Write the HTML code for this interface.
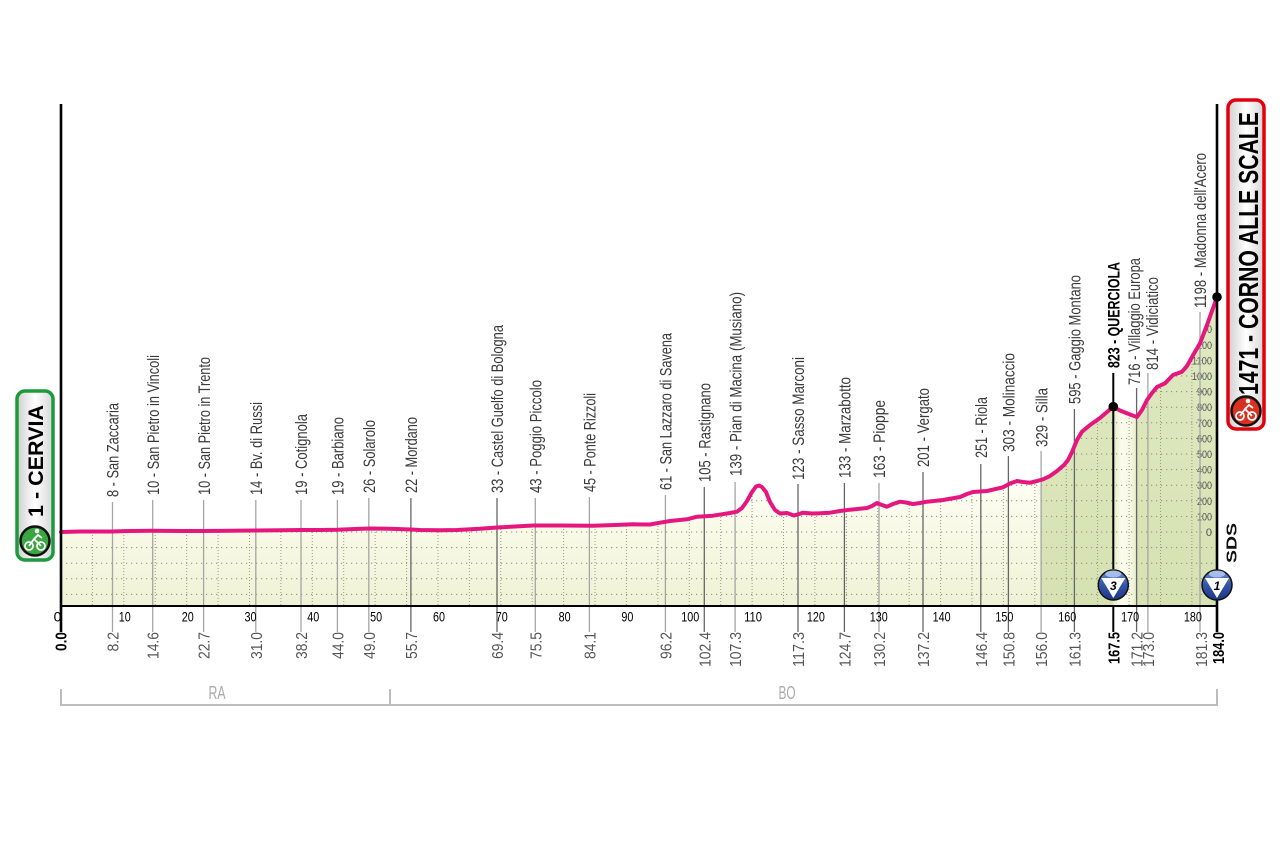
<!DOCTYPE html>
<html><head><meta charset="utf-8"><style>
html,body{margin:0;padding:0;background:#fff;}
svg{display:block;}
text{font-family:"Liberation Sans",sans-serif;}
</style></head><body>
<svg width="1280" height="852" viewBox="0 0 1280 852" xmlns="http://www.w3.org/2000/svg">
<defs>
<clipPath id="fc"><polygon points="61,606 61,532 80,531.5 112,531.5 130,531 152,530.8 180,531 203,531 230,530.8 256,530.5 280,530.3 301,530 320,530 337,529.8 355,529 369,528.5 390,528.8 411,529.5 420,530 440,530.3 457,530 480,528.8 497,527.5 515,526.5 533,525.5 560,525.5 593,525.7 615,525 633,524.3 650,524.5 660,522.7 670,521 687,519.3 697,516.7 713,515.7 730,513 737,511.7 742,508 747,501 752,492 756,486.5 759,485.5 762,487 766,492 770,502 775,510 780,513.5 787,513 794,515.5 799,514 803,512.7 812,513.5 820,513.3 830,512.7 840,511 850,509.7 867,508 872,506 877,503 882,505 887,506.7 893,504 900,501.7 906,502.5 913,504 920,503 927,501.7 943,500 960,497 967,494 973,492 987,491 1003,487.3 1010,483.5 1017,481 1023,482 1030,482.7 1037,481 1043,479.3 1050,476 1057,471 1064,465 1068,460 1072,452 1077,440 1082,431.7 1090,425 1100,418 1107,412 1113,406.7 1120,410.5 1130,414.5 1137,417 1142,410 1147,400 1152,393 1157,387 1165,383.3 1173,375 1182,371.7 1187,366 1192,357 1200,343.3 1207,325 1217,297 1217,606"/></clipPath>
<linearGradient id="cream" x1="0" y1="480" x2="0" y2="606" gradientUnits="userSpaceOnUse"><stop offset="0" stop-color="#fefef3"/><stop offset="1" stop-color="#eff2d5"/></linearGradient>
<linearGradient id="green" x1="0" y1="300" x2="0" y2="606" gradientUnits="userSpaceOnUse"><stop offset="0" stop-color="#e0e9c2"/><stop offset="1" stop-color="#d6e2b2"/></linearGradient>
<linearGradient id="strip" x1="1113" y1="0" x2="1138" y2="0" gradientUnits="userSpaceOnUse"><stop offset="0" stop-color="#e4ebc8"/><stop offset="0.35" stop-color="#fcfcee"/><stop offset="0.75" stop-color="#f4f6e0"/><stop offset="1" stop-color="#dde7bd"/></linearGradient>
<linearGradient id="badge" x1="0" y1="0" x2="1" y2="0"><stop offset="0" stop-color="#cfcfcf"/><stop offset="0.5" stop-color="#ffffff"/><stop offset="1" stop-color="#d6d6d6"/></linearGradient>
<linearGradient id="blue" x1="0" y1="0" x2="0" y2="1"><stop offset="0" stop-color="#6a8fd8"/><stop offset="0.5" stop-color="#3556a8"/><stop offset="1" stop-color="#1c3484"/></linearGradient>
</defs>

<rect width="1280" height="852" fill="#fff"/>

<!-- fill -->
<g clip-path="url(#fc)">
<rect x="61" y="280" width="1156" height="326" fill="url(#cream)"/>
<rect x="1041" y="280" width="72" height="326" fill="url(#green)"/>
<rect x="1113" y="280" width="25" height="326" fill="url(#strip)"/>
<rect x="1137" y="280" width="80" height="326" fill="url(#green)"/>
<path d="M92.4 280V606M123.8 280V606M155.2 280V606M186.7 280V606M218.1 280V606M249.5 280V606M280.9 280V606M312.3 280V606M343.7 280V606M375.1 280V606M406.6 280V606M438 280V606M469.4 280V606M500.8 280V606M532.2 280V606M563.6 280V606M595 280V606M626.4 280V606M657.9 280V606M689.3 280V606M720.7 280V606M752.1 280V606M783.5 280V606M814.9 280V606M846.3 280V606M877.7 280V606M909.2 280V606M940.6 280V606M972 280V606M1003.4 280V606M1034.8 280V606M1066.2 280V606M1097.6 280V606M1129.1 280V606M1160.5 280V606M1191.9 280V606" stroke="#9a9a8a" stroke-width="1" stroke-dasharray="1,2" fill="none"/>
<path d="M61 594.4H1217M61 578.8H1217M61 563.2H1217M61 547.6H1217M61 532H1217M61 516.4H1217M61 500.8H1217M61 485.2H1217M61 469.6H1217M61 454H1217M61 438.4H1217M61 422.8H1217M61 407.2H1217M61 391.6H1217M61 376H1217M61 360.4H1217M61 344.8H1217M61 329.2H1217M61 313.6H1217M61 298H1217" stroke="#8a8a7a" stroke-width="1" stroke-dasharray="1.2,3.8" fill="none"/>
<g font-size="11" fill="#555" text-anchor="end">
<text x="1212" y="536">0</text>
<text x="1212" y="520.4" textLength="15" lengthAdjust="spacingAndGlyphs">100</text>
<text x="1212" y="504.8" textLength="15" lengthAdjust="spacingAndGlyphs">200</text>
<text x="1212" y="489.2" textLength="15" lengthAdjust="spacingAndGlyphs">300</text>
<text x="1212" y="473.6" textLength="15" lengthAdjust="spacingAndGlyphs">400</text>
<text x="1212" y="458" textLength="15" lengthAdjust="spacingAndGlyphs">500</text>
<text x="1212" y="442.4" textLength="15" lengthAdjust="spacingAndGlyphs">600</text>
<text x="1212" y="426.8" textLength="15" lengthAdjust="spacingAndGlyphs">700</text>
<text x="1212" y="411.2" textLength="15" lengthAdjust="spacingAndGlyphs">800</text>
<text x="1212" y="395.6" textLength="15" lengthAdjust="spacingAndGlyphs">900</text>
<text x="1212" y="380" textLength="20" lengthAdjust="spacingAndGlyphs">1000</text>
<text x="1212" y="364.4" textLength="20" lengthAdjust="spacingAndGlyphs">1100</text>
<text x="1212" y="348.8" textLength="20" lengthAdjust="spacingAndGlyphs">1200</text>
<text x="1212" y="333.2" textLength="20" lengthAdjust="spacingAndGlyphs">1300</text>
<text x="1212" y="317.6" textLength="20" lengthAdjust="spacingAndGlyphs">1400</text>
</g>
</g>

<!-- town lines -->
<g stroke="#a5a5a5" stroke-width="1.3" fill="none">
<path d="M112.5 502V632M152.7 500V632M203.6 500V632M255.8 500V632M301 500V632M337.4 500V632M368.8 498V632M535.3 498V632M589.4 497V632M665.4 495V632M735.1 482V632M879 483V632M1041.1 451V632M1147.9 373V632M1200 312V632"/>
</g>
<g stroke="#666" stroke-width="1.3" fill="none">
<path d="M410.9 498V632M497 498V632M704.3 487V632M798 484V632M844.4 483V632M923 472V632M980.8 464V632M1008.4 456V632M1074.4 409V632M1136.6 388V632"/>
</g>
<path d="M1113.3 373V569M1113.3 606V632" stroke="#000" stroke-width="2" fill="none"/>

<!-- profile -->
<polyline fill="none" stroke="#e5177e" stroke-width="4" stroke-linejoin="round" stroke-linecap="round" points="61,532 80,531.5 112,531.5 130,531 152,530.8 180,531 203,531 230,530.8 256,530.5 280,530.3 301,530 320,530 337,529.8 355,529 369,528.5 390,528.8 411,529.5 420,530 440,530.3 457,530 480,528.8 497,527.5 515,526.5 533,525.5 560,525.5 593,525.7 615,525 633,524.3 650,524.5 660,522.7 670,521 687,519.3 697,516.7 713,515.7 730,513 737,511.7 742,508 747,501 752,492 756,486.5 759,485.5 762,487 766,492 770,502 775,510 780,513.5 787,513 794,515.5 799,514 803,512.7 812,513.5 820,513.3 830,512.7 840,511 850,509.7 867,508 872,506 877,503 882,505 887,506.7 893,504 900,501.7 906,502.5 913,504 920,503 927,501.7 943,500 960,497 967,494 973,492 987,491 1003,487.3 1010,483.5 1017,481 1023,482 1030,482.7 1037,481 1043,479.3 1050,476 1057,471 1064,465 1068,460 1072,452 1077,440 1082,431.7 1090,425 1100,418 1107,412 1113,406.7 1120,410.5 1130,414.5 1137,417 1142,410 1147,400 1152,393 1157,387 1165,383.3 1173,375 1182,371.7 1187,366 1192,357 1200,343.3 1207,325 1217,297"/>

<!-- axes -->
<path d="M61 104V632M1217 104V632" stroke="#000" stroke-width="2.6" fill="none"/>
<path d="M60 606H1218" stroke="#000" stroke-width="2" fill="none"/>

<!-- dots -->
<circle cx="1113.3" cy="406.7" r="4.8" fill="#000"/>
<circle cx="1217" cy="297" r="4.8" fill="#000"/>

<!-- climb markers -->
<g>
<circle cx="1113.3" cy="585" r="15" fill="url(#blue)" stroke="#111" stroke-width="1.5"/>
<ellipse cx="1113.3" cy="574" rx="8" ry="3.5" fill="#b9cdf2" opacity="0.8"/>
<polygon points="1101.3,578 1125.3,578 1113.3,598" fill="#fff"/>
<text x="1113.3" y="590" font-size="12" font-weight="bold" font-style="italic" text-anchor="middle" fill="#000">3</text>
<circle cx="1217" cy="585" r="15" fill="url(#blue)" stroke="#111" stroke-width="1.5"/>
<ellipse cx="1217" cy="574" rx="8" ry="3.5" fill="#b9cdf2" opacity="0.8"/>
<polygon points="1205,578 1229,578 1217,598" fill="#fff"/>
<text x="1217" y="590" font-size="12" font-weight="bold" font-style="italic" text-anchor="middle" fill="#000">1</text>
</g>

<!-- SDS -->
<text x="1236.5" y="563" transform="rotate(-90 1236.5 563)" font-size="15" font-weight="bold" fill="#111" textLength="40" lengthAdjust="spacingAndGlyphs">SDS</text>

<!-- km axis numbers -->
<g font-size="14" fill="#000" text-anchor="middle">
<text x="57.5" y="621.5">0</text>
<text x="124.8" y="621.5" textLength="12" lengthAdjust="spacingAndGlyphs">10</text>
<text x="187.7" y="621.5" textLength="12" lengthAdjust="spacingAndGlyphs">20</text>
<text x="250.5" y="621.5" textLength="12" lengthAdjust="spacingAndGlyphs">30</text>
<text x="313.3" y="621.5" textLength="12" lengthAdjust="spacingAndGlyphs">40</text>
<text x="376.1" y="621.5" textLength="12" lengthAdjust="spacingAndGlyphs">50</text>
<text x="439" y="621.5" textLength="12" lengthAdjust="spacingAndGlyphs">60</text>
<text x="501.8" y="621.5" textLength="12" lengthAdjust="spacingAndGlyphs">70</text>
<text x="564.6" y="621.5" textLength="12" lengthAdjust="spacingAndGlyphs">80</text>
<text x="627.4" y="621.5" textLength="12" lengthAdjust="spacingAndGlyphs">90</text>
<text x="690.3" y="621.5" textLength="18" lengthAdjust="spacingAndGlyphs">100</text>
<text x="753.1" y="621.5" textLength="18" lengthAdjust="spacingAndGlyphs">110</text>
<text x="815.9" y="621.5" textLength="18" lengthAdjust="spacingAndGlyphs">120</text>
<text x="878.7" y="621.5" textLength="18" lengthAdjust="spacingAndGlyphs">130</text>
<text x="941.6" y="621.5" textLength="18" lengthAdjust="spacingAndGlyphs">140</text>
<text x="1004.4" y="621.5" textLength="18" lengthAdjust="spacingAndGlyphs">150</text>
<text x="1067.2" y="621.5" textLength="18" lengthAdjust="spacingAndGlyphs">160</text>
<text x="1130.1" y="621.5" textLength="18" lengthAdjust="spacingAndGlyphs">170</text>
<text x="1192.9" y="621.5" textLength="18" lengthAdjust="spacingAndGlyphs">180</text>
</g>

<!-- distance labels -->
<g font-size="16" fill="#555" text-anchor="end">
<text x="118.5" y="632" transform="rotate(-90 118.5 632)" textLength="19.5" lengthAdjust="spacingAndGlyphs">8.2</text>
<text x="158.7" y="632" transform="rotate(-90 158.7 632)" textLength="27" lengthAdjust="spacingAndGlyphs">14.6</text>
<text x="209.6" y="632" transform="rotate(-90 209.6 632)" textLength="27" lengthAdjust="spacingAndGlyphs">22.7</text>
<text x="261.8" y="632" transform="rotate(-90 261.8 632)" textLength="27" lengthAdjust="spacingAndGlyphs">31.0</text>
<text x="307" y="632" transform="rotate(-90 307 632)" textLength="27" lengthAdjust="spacingAndGlyphs">38.2</text>
<text x="343.4" y="632" transform="rotate(-90 343.4 632)" textLength="27" lengthAdjust="spacingAndGlyphs">44.0</text>
<text x="374.8" y="632" transform="rotate(-90 374.8 632)" textLength="27" lengthAdjust="spacingAndGlyphs">49.0</text>
<text x="416.9" y="632" transform="rotate(-90 416.9 632)" textLength="27" lengthAdjust="spacingAndGlyphs">55.7</text>
<text x="503" y="632" transform="rotate(-90 503 632)" textLength="27" lengthAdjust="spacingAndGlyphs">69.4</text>
<text x="541.3" y="632" transform="rotate(-90 541.3 632)" textLength="27" lengthAdjust="spacingAndGlyphs">75.5</text>
<text x="595.4" y="632" transform="rotate(-90 595.4 632)" textLength="27" lengthAdjust="spacingAndGlyphs">84.1</text>
<text x="671.4" y="632" transform="rotate(-90 671.4 632)" textLength="27" lengthAdjust="spacingAndGlyphs">96.2</text>
<text x="710.3" y="632" transform="rotate(-90 710.3 632)" textLength="35" lengthAdjust="spacingAndGlyphs">102.4</text>
<text x="741.1" y="632" transform="rotate(-90 741.1 632)" textLength="35" lengthAdjust="spacingAndGlyphs">107.3</text>
<text x="804" y="632" transform="rotate(-90 804 632)" textLength="35" lengthAdjust="spacingAndGlyphs">117.3</text>
<text x="850.4" y="632" transform="rotate(-90 850.4 632)" textLength="35" lengthAdjust="spacingAndGlyphs">124.7</text>
<text x="885" y="632" transform="rotate(-90 885 632)" textLength="35" lengthAdjust="spacingAndGlyphs">130.2</text>
<text x="929" y="632" transform="rotate(-90 929 632)" textLength="35" lengthAdjust="spacingAndGlyphs">137.2</text>
<text x="986.8" y="632" transform="rotate(-90 986.8 632)" textLength="35" lengthAdjust="spacingAndGlyphs">146.4</text>
<text x="1014.4" y="632" transform="rotate(-90 1014.4 632)" textLength="35" lengthAdjust="spacingAndGlyphs">150.8</text>
<text x="1047.1" y="632" transform="rotate(-90 1047.1 632)" textLength="35" lengthAdjust="spacingAndGlyphs">156.0</text>
<text x="1080.4" y="632" transform="rotate(-90 1080.4 632)" textLength="35" lengthAdjust="spacingAndGlyphs">161.3</text>
<text x="1142.6" y="632" transform="rotate(-90 1142.6 632)" textLength="35" lengthAdjust="spacingAndGlyphs">171.2</text>
<text x="1153.9" y="632" transform="rotate(-90 1153.9 632)" textLength="35" lengthAdjust="spacingAndGlyphs">173.0</text>
<text x="1207" y="632" transform="rotate(-90 1207 632)" textLength="35" lengthAdjust="spacingAndGlyphs">181.3</text>
</g>
<g font-size="16" fill="#000" font-weight="bold" text-anchor="end">
<text x="66.5" y="632" transform="rotate(-90 66.5 632)" textLength="19" lengthAdjust="spacingAndGlyphs">0.0</text>
<text x="1119.3" y="632" transform="rotate(-90 1119.3 632)" textLength="32" lengthAdjust="spacingAndGlyphs">167.5</text>
<text x="1224" y="632" transform="rotate(-90 1224 632)" textLength="32" lengthAdjust="spacingAndGlyphs">184.0</text>
</g>

<!-- town labels -->
<g font-size="17" fill="#3a3a3a">
<text x="118.7" y="497" transform="rotate(-90 118.7 497)" textLength="94" lengthAdjust="spacingAndGlyphs">8 - San Zaccaria</text>
<text x="158.9" y="495" transform="rotate(-90 158.9 495)" textLength="140" lengthAdjust="spacingAndGlyphs">10 - San Pietro in Vincoli</text>
<text x="209.8" y="495" transform="rotate(-90 209.8 495)" textLength="138" lengthAdjust="spacingAndGlyphs">10 - San Pietro in Trento</text>
<text x="262" y="495" transform="rotate(-90 262 495)" textLength="93" lengthAdjust="spacingAndGlyphs">14 - Bv. di Russi</text>
<text x="307.2" y="495" transform="rotate(-90 307.2 495)" textLength="81" lengthAdjust="spacingAndGlyphs">19 - Cotignola</text>
<text x="343.6" y="495" transform="rotate(-90 343.6 495)" textLength="78" lengthAdjust="spacingAndGlyphs">19 - Barbiano</text>
<text x="375" y="493" transform="rotate(-90 375 493)" textLength="73" lengthAdjust="spacingAndGlyphs">26 - Solarolo</text>
<text x="417.1" y="493" transform="rotate(-90 417.1 493)" textLength="76" lengthAdjust="spacingAndGlyphs">22 - Mordano</text>
<text x="503.2" y="493" transform="rotate(-90 503.2 493)" textLength="168" lengthAdjust="spacingAndGlyphs">33 - Castel Guelfo di Bologna</text>
<text x="541.5" y="493" transform="rotate(-90 541.5 493)" textLength="113" lengthAdjust="spacingAndGlyphs">43 - Poggio Piccolo</text>
<text x="595.6" y="492" transform="rotate(-90 595.6 492)" textLength="99" lengthAdjust="spacingAndGlyphs">45 - Ponte Rizzoli</text>
<text x="671.6" y="490" transform="rotate(-90 671.6 490)" textLength="157" lengthAdjust="spacingAndGlyphs">61 - San Lazzaro di Savena</text>
<text x="710.5" y="482" transform="rotate(-90 710.5 482)" textLength="99" lengthAdjust="spacingAndGlyphs">105 - Rastignano</text>
<text x="741.3" y="476" transform="rotate(-90 741.3 476)" textLength="184" lengthAdjust="spacingAndGlyphs">139 - Pian di Macina (Musiano)</text>
<text x="804.2" y="480" transform="rotate(-90 804.2 480)" textLength="123" lengthAdjust="spacingAndGlyphs">123 - Sasso Marconi</text>
<text x="850.6" y="478" transform="rotate(-90 850.6 478)" textLength="101" lengthAdjust="spacingAndGlyphs">133 - Marzabotto</text>
<text x="885.2" y="478" transform="rotate(-90 885.2 478)" textLength="78" lengthAdjust="spacingAndGlyphs">163 - Pioppe</text>
<text x="929.2" y="467" transform="rotate(-90 929.2 467)" textLength="79" lengthAdjust="spacingAndGlyphs">201 - Vergato</text>
<text x="987" y="458" transform="rotate(-90 987 458)" textLength="61" lengthAdjust="spacingAndGlyphs">251 - Riola</text>
<text x="1014.6" y="452" transform="rotate(-90 1014.6 452)" textLength="99" lengthAdjust="spacingAndGlyphs">303 - Molinaccio</text>
<text x="1047.3" y="447" transform="rotate(-90 1047.3 447)" textLength="59" lengthAdjust="spacingAndGlyphs">329 - Silla</text>
<text x="1080.6" y="404" transform="rotate(-90 1080.6 404)" textLength="129" lengthAdjust="spacingAndGlyphs">595 - Gaggio Montano</text>
<text x="1140.2" y="385" transform="rotate(-90 1140.2 385)" textLength="127" lengthAdjust="spacingAndGlyphs">716 - Villaggio Europa</text>
<text x="1158.2" y="370" transform="rotate(-90 1158.2 370)" textLength="93" lengthAdjust="spacingAndGlyphs">814 - Vidiciatico</text>
<text x="1206.2" y="308" transform="rotate(-90 1206.2 308)" textLength="155" lengthAdjust="spacingAndGlyphs">1198 - Madonna dell'Acero</text>
</g>
<text x="1119.5" y="368" transform="rotate(-90 1119.5 368)" font-size="17" font-weight="bold" fill="#000" textLength="106" lengthAdjust="spacingAndGlyphs">823 - QUERCIOLA</text>

<!-- start badge -->
<rect x="17" y="391" width="36" height="169" rx="8" fill="url(#badge)" stroke="#1e9a3e" stroke-width="3.5"/>
<text x="43" y="517" transform="rotate(-90 43 517)" font-size="21" font-weight="bold" fill="#000" textLength="112" lengthAdjust="spacingAndGlyphs">1 - CERVIA</text>
<circle cx="35" cy="541" r="14.5" fill="#3aa640" stroke="#111" stroke-width="2.5"/>
<g stroke="#fff" stroke-width="1.8" fill="none">
<circle cx="29" cy="546" r="4"/><circle cx="41" cy="546" r="4"/>
<path d="M29 546L34 539L41 546M34 539L38 535L42 538"/>
</g>
<circle cx="37" cy="531" r="2.3" fill="#fff"/>

<!-- finish badge -->
<rect x="1228" y="100" width="36" height="329" rx="8" fill="url(#badge)" stroke="#e2000f" stroke-width="3.5"/>
<text x="1258" y="395" transform="rotate(-90 1258 395)" font-size="28" font-weight="bold" fill="#000" textLength="283" lengthAdjust="spacingAndGlyphs">1471 - CORNO ALLE SCALE</text>
<circle cx="1246" cy="411" r="14.5" fill="#d9301f" stroke="#111" stroke-width="2.5"/>
<g stroke="#fff" stroke-width="1.8" fill="none">
<circle cx="1240" cy="416" r="4"/><circle cx="1252" cy="416" r="4"/>
<path d="M1240 416L1245 409L1252 416M1245 409L1249 405L1253 408"/>
</g>
<circle cx="1248" cy="401" r="2.3" fill="#fff"/>

<!-- province bar -->
<path d="M61 689V705H1217V689M390 689V705" stroke="#bdbdbd" stroke-width="2" fill="none"/>
<text x="217" y="699" font-size="18" fill="#aaa" text-anchor="middle" textLength="17" lengthAdjust="spacingAndGlyphs">RA</text>
<text x="787" y="699" font-size="18" fill="#aaa" text-anchor="middle" textLength="17" lengthAdjust="spacingAndGlyphs">BO</text>
</svg>
</body></html>
